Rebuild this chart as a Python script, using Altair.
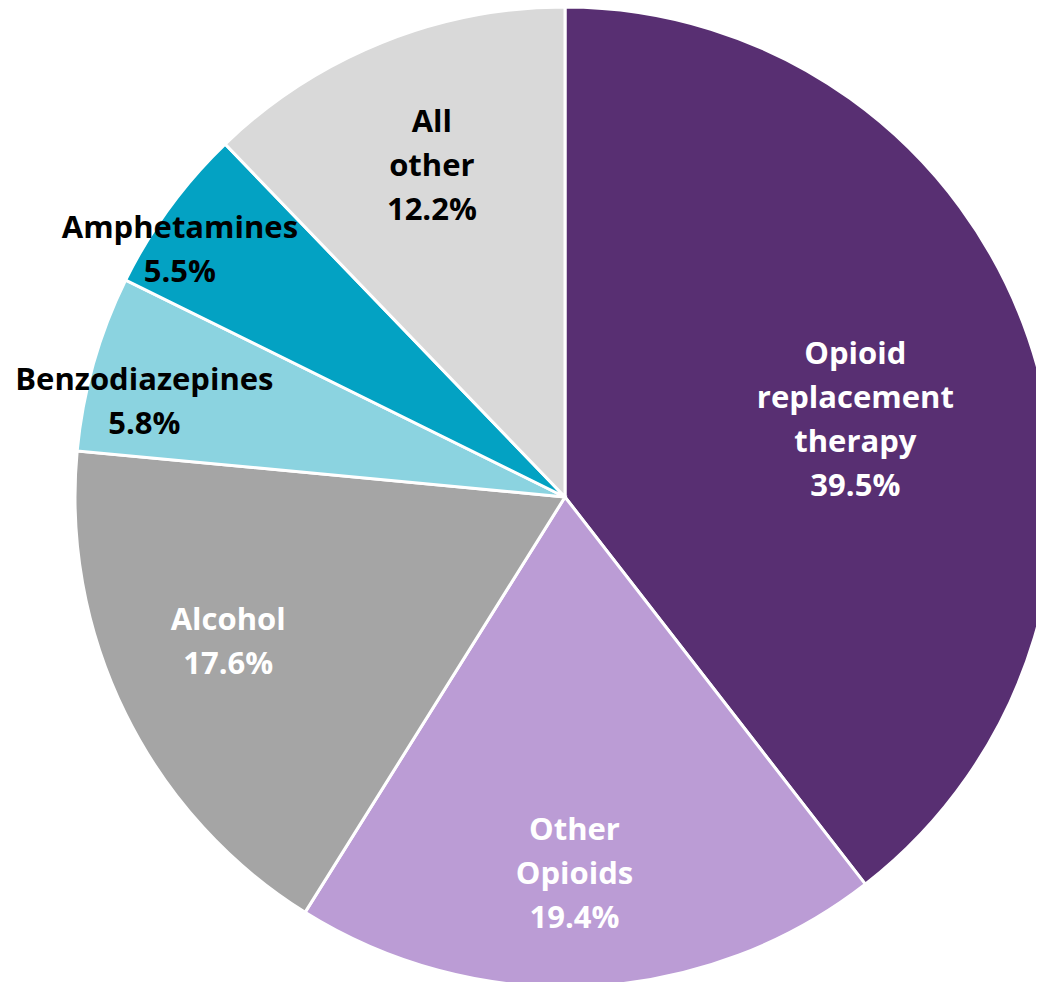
import altair as alt
import pandas as pd

categories = ["Opioid replacement therapy", "Other Opioids", "Alcohol",
              "Benzodiazepines", "Amphetamines", "All other"]
label_lines = ["Opioid\nreplacement\ntherapy", "Other\nOpioids", "Alcohol",
               "Benzodiazepines", "Amphetamines", "All\nother"]
shares = [39.5, 19.4, 17.6, 5.8, 5.5, 12.2]

# styling / layout (not data)
slice_colors = ["#582F72", "#BB9CD5", "#A5A5A5", "#8BD3E0", "#03A2C3", "#D9D9D9"]
text_colors = ["white", "white", "white", "black", "black", "black"]
label_radius = [300, 378, 367, 431, 457, 356]      # px from centre
label_shift = [1.2, 0.4, 0.8, -0.9, -1.0, 0.0]     # angular nudge, in % of circle

CX, CY, R = 557, 489, 490
LH = 44

df = pd.DataFrame({
    "cat": categories,
    "pct": shares,
    "idx": list(range(len(categories))),
    "label": [f"{l}\n{v:.1f}%" for l, v in zip(label_lines, shares)],
    "nl": [l.count("\n") + 2 for l in label_lines],
    "tc": text_colors,
    "lr": label_radius,
    "ls": label_shift,
})

theta_scale = alt.Scale(domain=[0, 100], range=[0, 6.283185307179586])

base = alt.Chart(df).transform_window(
    cum="sum(pct)", sort=[alt.SortField("idx")], frame=[None, 0]
).transform_calculate(
    start="datum.cum - datum.pct",
    ang="(datum.cum - datum.pct / 2 + datum.ls) / 100 * 2 * PI",
)

pie = base.mark_arc(radius=R, stroke="white", strokeWidth=3).encode(
    theta=alt.Theta("start:Q", scale=theta_scale, stack=None),
    theta2="cum:Q",
    x=alt.value(CX), y=alt.value(CY),
    color=alt.Color("cat:N", scale=alt.Scale(domain=categories, range=slice_colors), legend=None),
)

labels = base.transform_calculate(
    lx=f"{CX} + datum.lr * sin(datum.ang)",
    ly=f"{CY} - datum.lr * cos(datum.ang) - (datum.nl - 1) * {LH} / 2",
).mark_text(
    font="Open Sans", fontWeight="bold", fontSize=31, lineBreak="\n", lineHeight=LH,
    align="center", baseline="middle",
).encode(
    x=alt.X("lx:Q", scale=None),
    y=alt.Y("ly:Q", scale=None),
    text="label:N",
    color=alt.Color("tc:N", scale=None),
)

chart = (pie + labels).properties(
    width=1028, height=974, padding=0,
    autosize=alt.AutoSizeParams(type="none"),
).configure_view(stroke=None)

chart.save("out.html", embed_options={"renderer": "svg", "actions": False})
